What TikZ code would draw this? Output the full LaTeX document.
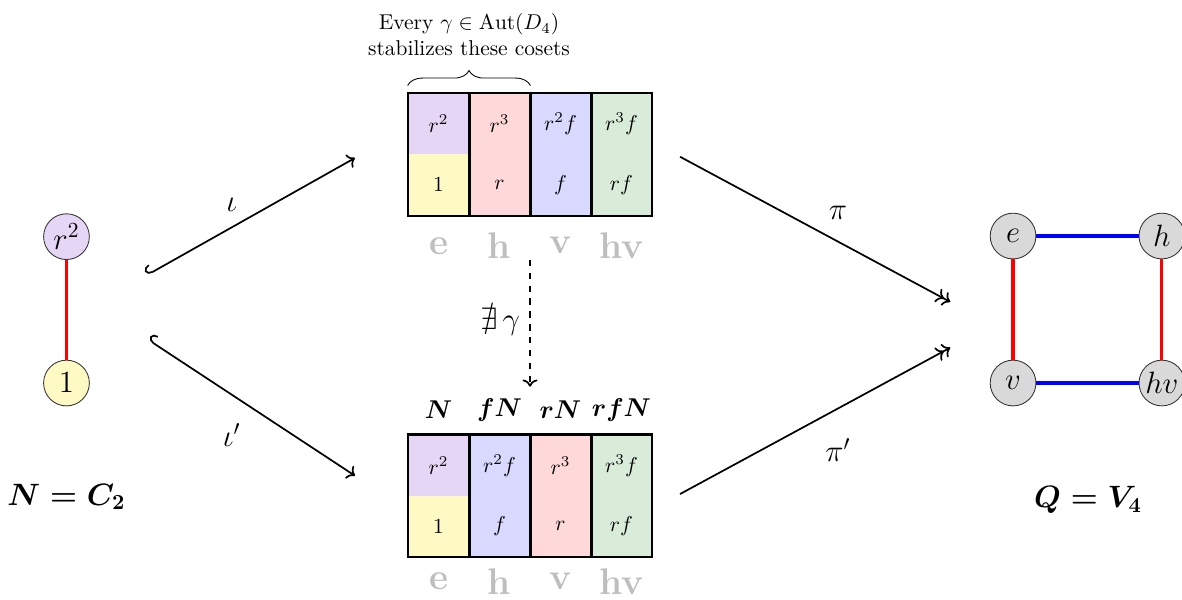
\documentclass[tikz,border=0pt]{standalone}
\usepackage{amsmath,amssymb}
\usetikzlibrary{arrows.meta,decorations.pathreplacing}
\definecolor{cosetpurple}{RGB}{230,214,245}
\definecolor{cosetyellow}{RGB}{255,249,196}
\definecolor{cosetred}{RGB}{255,217,217}
\definecolor{cosetblue}{RGB}{217,217,255}
\definecolor{cosetgreen}{RGB}{217,235,217}
\definecolor{vertgray}{RGB}{217,217,217}
\definecolor{quotgray}{RGB}{190,190,190}
\begin{document}
\begin{tikzpicture}[
      % --- STYLES ---
      every node/.style={font=\normalsize},
      cell/.style={rectangle, minimum width=1cm, minimum height=1cm, inner sep=0pt},
      vert/.style={circle, draw=black!80, minimum size=0.75cm, inner sep=0pt, font=\Large},
      qlabel/.style={font=\LARGE\bfseries, text=quotgray},
      clabel/.style={font=\large},
      edge-r/.style={line width=1.5pt, draw=red},
      edge-b/.style={line width=1.5pt, draw=blue},
      grid/.style={line width=1pt},
      map/.style={thick, draw=black},
      hook/.style={{Hooks[right, width=8pt, length=3pt]}->},
      maplabel/.style={font=\Large}
  ]
    \useasboundingbox (-6.69,-0.70) rectangle (12.69,9.13);
    %
    % 1. Top table (cosets of N in D4)
    \node[cell, fill=cosetpurple] (ta1) at (0.5, 7.1) {$r^2$};
    \node[cell, fill=cosetred] (ta2) at (1.5, 7.1) {$r^3$};
    \node[cell, fill=cosetblue] (ta3) at (2.5, 7.1) {$r^2f$};
    \node[cell, fill=cosetgreen] (ta4) at (3.5, 7.1) {$r^3f$};
    \node[cell, fill=cosetyellow] (tb1) at (0.5, 6.1) {$1$};
    \node[cell, fill=cosetred] (tb2) at (1.5, 6.1) {$r$};
    \node[cell, fill=cosetblue] (tb3) at (2.5, 6.1) {$f$};
    \node[cell, fill=cosetgreen] (tb4) at (3.5, 6.1) {$rf$};
    \draw[grid] (ta1.north west) rectangle (tb4.south east);
    \draw[grid] (ta1.north east) -- (tb1.south east);
    \draw[grid] (ta2.north east) -- (tb2.south east);
    \draw[grid] (ta3.north east) -- (tb3.south east);
    \node[qlabel] (tq1) at (0.5, 5.1) {e};
    \node[qlabel] (tq2) at (1.5, 5.1) {h};
    \node[qlabel] (tq3) at (2.5, 5.1) {v};
    \node[qlabel] (tq4) at (3.5, 5.1) {hv};
    %
    % 2. Brace over the first two cosets
    \draw[decorate, decoration={brace, amplitude=7pt}] ([yshift=0.12cm]ta1.north west) coordinate (br-l) -- ([yshift=0.12cm]ta2.north east) coordinate (br-r);
    \node[align=center, anchor=south] (bracetext) at (1, 8.09) {Every $\gamma\in\mathrm{Aut}(D_4)$\\stabilizes these cosets};
    %
    % 3. Bottom table
    \node[cell, fill=cosetpurple] (ba1) at (0.5, 1.5) {$r^2$};
    \node[cell, fill=cosetblue] (ba2) at (1.5, 1.5) {$r^2f$};
    \node[cell, fill=cosetred] (ba3) at (2.5, 1.5) {$r^3$};
    \node[cell, fill=cosetgreen] (ba4) at (3.5, 1.5) {$r^3f$};
    \node[cell, fill=cosetyellow] (bb1) at (0.5, 0.5) {$1$};
    \node[cell, fill=cosetblue] (bb2) at (1.5, 0.5) {$f$};
    \node[cell, fill=cosetred] (bb3) at (2.5, 0.5) {$r$};
    \node[cell, fill=cosetgreen] (bb4) at (3.5, 0.5) {$rf$};
    \draw[grid] (ba1.north west) rectangle (bb4.south east);
    \draw[grid] (ba1.north east) -- (bb1.south east);
    \draw[grid] (ba2.north east) -- (bb2.south east);
    \draw[grid] (ba3.north east) -- (bb3.south east);
    \node[qlabel] (bq1) at (0.5, -0.40) {e};
    \node[qlabel] (bq2) at (1.5, -0.40) {h};
    \node[qlabel] (bq3) at (2.5, -0.40) {v};
    \node[qlabel] (bq4) at (3.5, -0.40) {hv};
    \node[clabel] (bc1) at (0.5, 2.41) {$\boldsymbol{N}$};
    \node[clabel] (bc2) at (1.5, 2.41) {$\boldsymbol{fN}$};
    \node[clabel] (bc3) at (2.5, 2.41) {$\boldsymbol{rN}$};
    \node[clabel] (bc4) at (3.5, 2.41) {$\boldsymbol{rfN}$};
    %
    % 4. N = C2
    \node[vert, fill=cosetpurple] (n-r2) at (-5.6, 5.25) {$r^2$};
    \node[vert, fill=cosetyellow] (n-1) at (-5.6, 2.85) {$1$};
    \draw[edge-r] (n-r2) -- (n-1);
    \node[font=\Large] (n-name) at (-5.6, 0.98) {$\boldsymbol{N = C_2}$};
    %
    % 5. Q = V4
    \node[vert, fill=vertgray] (q-e) at (9.92, 5.26) {$e$};
    \node[vert, fill=vertgray] (q-h) at (12.36, 5.26) {$h$};
    \node[vert, fill=vertgray] (q-v) at (9.92, 2.85) {$v$};
    \node[vert, fill=vertgray] (q-hv) at (12.36, 2.85) {$hv$};
    \draw[edge-b] (q-e) -- (q-h);
    \draw[edge-b] (q-v) -- (q-hv);
    \draw[edge-r] (q-e) -- (q-v);
    \draw[edge-r] (q-h) -- (q-hv);
    \node[font=\Large] (q-name) at (11.15, 0.93) {$\boldsymbol{Q = V_4}$};
    %
    % 6. Maps
    \coordinate (iota-s) at (-4.28, 4.62);
    \coordinate (iota-e) at (-0.87, 6.54);
    \coordinate (iotap-s) at (-4.26, 3.56);
    \coordinate (iotap-e) at (-0.87, 1.33);
    \coordinate (pi-s) at (4.46, 6.56);
    \coordinate (pi-e) at (8.89, 4.18);
    \coordinate (pip-s) at (4.46, 1.03);
    \coordinate (pip-e) at (8.89, 3.43);
    \draw[map, hook] (iota-s) -- (iota-e);
    \draw[map, hook] (iotap-s) -- (iotap-e);
    \draw[map, ->>] (pi-s) -- (pi-e);
    \draw[map, ->>] (pip-s) -- (pip-e);
    \node[maplabel] (iota) at (-2.89, 5.77) {$\iota$};
    \node[maplabel] (iotap) at (-2.89, 2.0) {$\iota'$};
    \node[maplabel] (pi) at (7.05, 5.64) {$\pi$};
    \node[maplabel] (pip) at (7.05, 1.75) {$\pi'$};
    %
    % 7. No automorphism between the tables
    \coordinate (gam-s) at (2.0, 4.87);
    \coordinate (gam-e) at (2.0, 2.79);
    \draw[thick, dashed, ->] (gam-s) -- (gam-e);
    \node[font=\Large] (gam) at (1.51, 3.85) {$\nexists\,\gamma$};
\end{tikzpicture}
\end{document}
